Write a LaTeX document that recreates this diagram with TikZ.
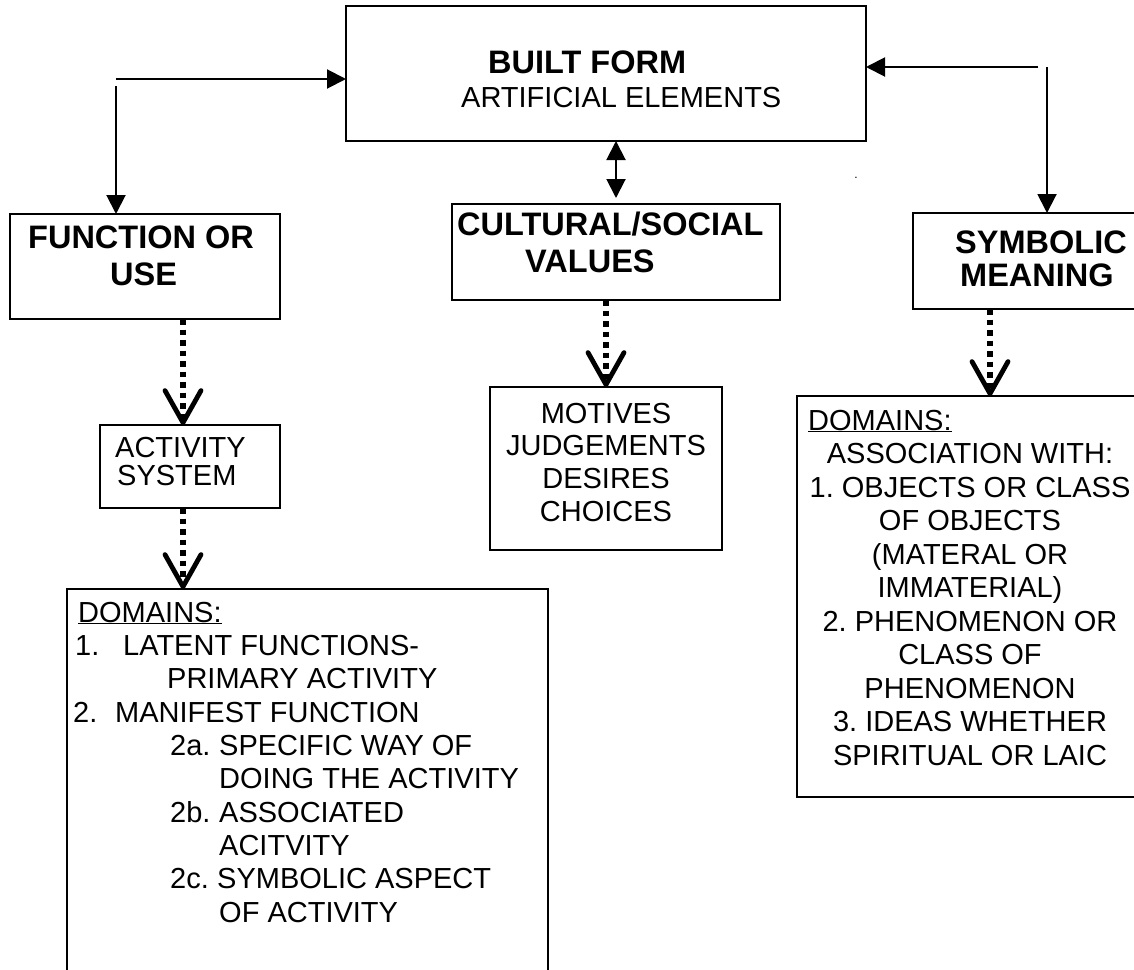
\documentclass[tikz,border=0pt]{standalone}
\usepackage{fontspec}
\setmainfont{Liberation Sans}
\usetikzlibrary{arrows.meta,calc}
\frenchspacing
\begin{document}
\begin{tikzpicture}[x=1pt,y=-1pt,
  box/.style={draw, line width=2pt, inner sep=0pt, outer sep=0pt, anchor=north west},
  conn/.style={line width=2pt, -{Triangle[length=19pt,width=19pt]}},
  dconn/.style={line width=2pt, {Triangle[length=19pt,width=19pt]}-{Triangle[length=19pt,width=19pt]}},
  dotarrow/.style={line width=6pt, dash pattern=on 5.5pt off 5pt, -{Straight Barb[length=32pt,width=36pt,line width=4.8pt,round]}},
  reg/.style={font=\fontsize{29}{33}\selectfont, anchor=base west, inner sep=0pt},
  regc/.style={font=\fontsize{29}{33}\selectfont, anchor=base, inner sep=0pt},
  hd/.style={font=\fontsize{32.5}{36}\selectfont\bfseries, anchor=base west, inner sep=0pt},
]
\useasboundingbox (0,0) rectangle (1134,969);
\clip (0,0) rectangle (1134,969);

% boxes
\node[box, minimum width=520pt, minimum height=135pt] (built) at (346,6) {};
\node[box, minimum width=270pt, minimum height=105pt] (func) at (10,214) {};
\node[box, minimum width=328pt, minimum height=96pt] (cult) at (452,204) {};
\node[box, minimum width=260pt, minimum height=96pt] (symb) at (913,213) {};
\node[box, minimum width=180pt, minimum height=83pt] (act) at (100,425) {};
\node[box, minimum width=232pt, minimum height=163pt] (mot) at (490,387) {};
\node[box, minimum width=481pt, minimum height=420pt] (dom1) at (67,589) {};
\node[box, minimum width=400pt, minimum height=401pt] (dom2) at (797,396) {};

% texts
\node[hd] (tbf) at (488,73) {BUILT FORM};
\node[reg] (tae) at (461,107) {ARTIFICIAL ELEMENTS};
\node[hd] (tf1) at (28,248) {FUNCTION OR};
\node[hd] (tf2) at (110,285) {USE};
\node[hd] (tc1) at (457,235) {CULTURAL/SOCIAL};
\node[hd] (tc2) at (525,272) {VALUES};
\node[hd] (ts1) at (955,253) {SYMBOLIC};
\node[hd] (ts2) at (960,286) {MEANING};
\node[reg] (ta1) at (115,457) {ACTIVITY};
\node[reg] (ta2) at (117,485) {SYSTEM};
\node[regc] (tm1) at (606,423) {MOTIVES};
\node[regc] (tm2) at (606,455) {JUDGEMENTS};
\node[regc] (tm3) at (606,488) {DESIRES};
\node[regc] (tm4) at (606,521) {CHOICES};

\node[reg] (d1) at (78,622) {\underline{DOMAINS:}};
\node[reg] (d2) at (75,655) {1.};
\node[reg] (d3) at (123,655) {LATENT FUNCTIONS-};
\node[reg] (d4) at (167,688) {PRIMARY ACTIVITY};
\node[reg] (d5) at (73,722) {2.};
\node[reg] (d6) at (115,722) {MANIFEST FUNCTION};
\node[reg] (d7) at (170,755) {2a.};
\node[reg] (d8) at (219,755) {SPECIFIC WAY OF};
\node[reg] (d9) at (219,788) {DOING THE ACTIVITY};
\node[reg] (d10) at (170,822) {2b.};
\node[reg] (d11) at (219,822) {ASSOCIATED};
\node[reg] (d12) at (219,855) {ACITVITY};
\node[reg] (d13) at (170,888) {2c.};
\node[reg] (d14) at (217,888) {SYMBOLIC ASPECT};
\node[reg] (d15) at (219,922) {OF ACTIVITY};

\node[reg] (e1) at (808,430) {\underline{DOMAINS:}};
\node[regc] (e2) at (970,463) {ASSOCIATION WITH:};
\node[regc] (e3) at (970,497) {1. OBJECTS OR CLASS};
\node[regc] (e4) at (970,530) {OF OBJECTS};
\node[regc] (e5) at (970,564) {(MATERAL OR};
\node[regc] (e6) at (970,597) {IMMATERIAL)};
\node[regc] (e7) at (970,631) {2. PHENOMENON OR};
\node[regc] (e8) at (970,664) {CLASS OF};
\node[regc] (e9) at (970,698) {PHENOMENON};
\node[regc] (e10) at (970,731) {3. IDEAS WHETHER};
\node[regc] (e11) at (970,765) {SPIRITUAL OR LAIC};

\node[font=\fontsize{12}{14}\selectfont, anchor=base, inner sep=0pt] (dot) at (856,178) {.};

% connectors
\coordinate (lh) at (116,79);
\coordinate (lv) at (116,86);
\draw[conn] (lh) -- (lh -| built.west);
\draw[conn] (lv) -- (lv |- func.north);
\coordinate (rh) at (1038,67);
\coordinate (rv) at (1047,67);
\draw[conn] (rh) -- (rh -| built.east);
\draw[conn] (rv) -- (rv |- symb.north);
\draw[dconn] (cult.north |- built.south) -- ($(cult.north)+(0,-6)$);

\coordinate (xa) at (183,0);
\coordinate (xs) at (990,0);
\draw[dotarrow] (func.south -| xa) -- (act.north -| xa);
\draw[dotarrow] (act.south -| xa) -- (dom1.north -| xa);
\draw[dotarrow] (cult.south -| mot.north) -- (mot.north);
\draw[dotarrow] (symb.south -| xs) -- (dom2.north -| xs);
\end{tikzpicture}
\end{document}
